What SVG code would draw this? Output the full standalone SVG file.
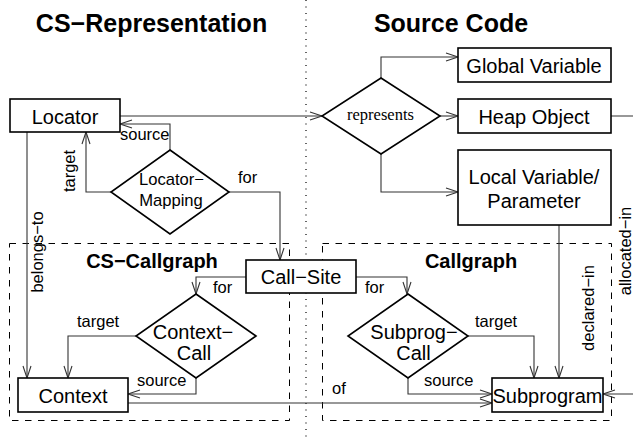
<svg xmlns="http://www.w3.org/2000/svg" width="633" height="440" viewBox="0 0 633 440">
<style>
text{font-family:"Liberation Sans",Arial,sans-serif;fill:#000}
.title{font-size:25px;font-weight:bold;text-anchor:middle}
.sub{font-size:20px;font-weight:bold;text-anchor:middle}
.node{font-size:20px;text-anchor:middle}
.lbl{font-size:16.5px}
.box{fill:#fff;stroke:#000;stroke-width:1.6}
.conn{fill:none;stroke:#333;stroke-width:1.1}
.dash{fill:none;stroke:#000;stroke-width:1;stroke-dasharray:6.5 6.5}
</style>
<defs>
<marker id="a" markerUnits="userSpaceOnUse" markerWidth="14" markerHeight="10" refX="12" refY="5" orient="auto" overflow="visible">
<path d="M0,1 L12,5 L0,9" fill="none" stroke="#333" stroke-width="1.1"/>
</marker>
</defs>
<line x1="306" y1="0" x2="306" y2="440" stroke="#000" stroke-width="1.2" stroke-dasharray="1 5.5"/>
<text class="title" x="151.5" y="31.5">CS−Representation</text>
<text class="title" x="451" y="31.5">Source Code</text>
<rect class="dash" x="9.5" y="243.5" width="280" height="177"/>
<rect class="dash" x="322.5" y="243.5" width="289" height="177"/>
<text class="sub" x="152" y="268">CS−Callgraph</text>
<text class="sub" x="471" y="268">Callgraph</text>
<g id="connectors">
<polyline class="conn" points="120,116 322,116" marker-end="url(#a)"/>
<polyline class="conn" points="381,78 381,57 458,57" marker-end="url(#a)"/>
<polyline class="conn" points="440,116 458,116" marker-end="url(#a)"/>
<polyline class="conn" points="381,154 381,192 458,192" marker-end="url(#a)"/>
<polyline class="conn" points="611,116 645,116 645,394 603,394" marker-end="url(#a)"/>
<polyline class="conn" points="559,225 559,378" marker-end="url(#a)"/>
<polyline class="conn" points="170,150 170,124 120,124" marker-end="url(#a)"/>
<polyline class="conn" points="111,192 86,192 86,132" marker-end="url(#a)"/>
<polyline class="conn" points="229,192 280,192 280,260" marker-end="url(#a)"/>
<polyline class="conn" points="27,132 27,378" marker-end="url(#a)"/>
<polyline class="conn" points="246,277 196,277 196,294" marker-end="url(#a)"/>
<polyline class="conn" points="136,336 68,336 68,378" marker-end="url(#a)"/>
<polyline class="conn" points="196,378 196,394 128,394" marker-end="url(#a)"/>
<polyline class="conn" points="128,403 492,403" marker-end="url(#a)"/>
<polyline class="conn" points="356,277 407,277 407,294" marker-end="url(#a)"/>
<polyline class="conn" points="468,336 534,336 534,378" marker-end="url(#a)"/>
<polyline class="conn" points="408,378 408,394 492,394" marker-end="url(#a)"/>
<text class="lbl" x="120" y="140">source</text>
<text class="lbl" transform="translate(75,171) rotate(-90)" text-anchor="middle">target</text>
<text class="lbl" x="238" y="183">for</text>
<text class="lbl" transform="translate(43,252) rotate(-90)" text-anchor="middle">belongs−to</text>
<text class="lbl" x="213" y="293">for</text>
<text class="lbl" x="77" y="327">target</text>
<text class="lbl" x="137" y="386">source</text>
<text class="lbl" x="332" y="394">of</text>
<text class="lbl" x="365" y="293">for</text>
<text class="lbl" x="475" y="327">target</text>
<text class="lbl" x="424" y="386">source</text>
<text class="lbl" transform="translate(594,308) rotate(-90)" text-anchor="middle">declared−in</text>
<text class="lbl" transform="translate(631,251) rotate(-90)" text-anchor="middle">allocated−in</text>
</g>
<g id="locator"><rect class="box" x="10" y="99" width="110" height="33"/><text class="node" x="65" y="124">Locator</text></g>
<g id="locator-mapping"><polygon class="box" points="170,150 229,192 170,234 111,192"/><text class="node" style="font-size:16.6px" x="171.5" y="185">Locator−</text><text class="node" style="font-size:16.6px" x="171" y="206">Mapping</text></g>
<g id="represents"><polygon class="box" points="381,78 440,116 381,154 322,116"/><text x="380.5" y="120" style="font-family:'Liberation Serif','Times New Roman',serif;font-size:16.5px;text-anchor:middle">represents</text></g>
<g id="global-variable"><rect class="box" x="458" y="48" width="153" height="34"/><text class="node" x="534" y="73">Global Variable</text></g>
<g id="heap-object"><rect class="box" x="458" y="99" width="153" height="34"/><text class="node" x="534" y="124">Heap Object</text></g>
<g id="local-variable"><rect class="box" x="458" y="150" width="153" height="75"/><text class="node" x="534" y="184">Local Variable/</text><text class="node" x="534" y="208">Parameter</text></g>
<g id="call-site"><rect class="box" x="246" y="260" width="110" height="33"/><text class="node" x="301" y="284">Call−Site</text></g>
<g id="context-call"><polygon class="box" points="196,294 256,336 196,378 136,336"/><text class="node" x="193" y="339">Context−</text><text class="node" x="194" y="360">Call</text></g>
<g id="subprog-call"><polygon class="box" points="408,294 468,336 408,378 348,336"/><text class="node" x="414" y="339">Subprog−</text><text class="node" x="413.5" y="360">Call</text></g>
<g id="context"><rect class="box" x="18" y="378" width="110" height="34"/><text class="node" x="73" y="403">Context</text></g>
<g id="subprogram"><rect class="box" x="492" y="378" width="111" height="34"/><text class="node" x="547.5" y="403">Subprogram</text></g>
</svg>
